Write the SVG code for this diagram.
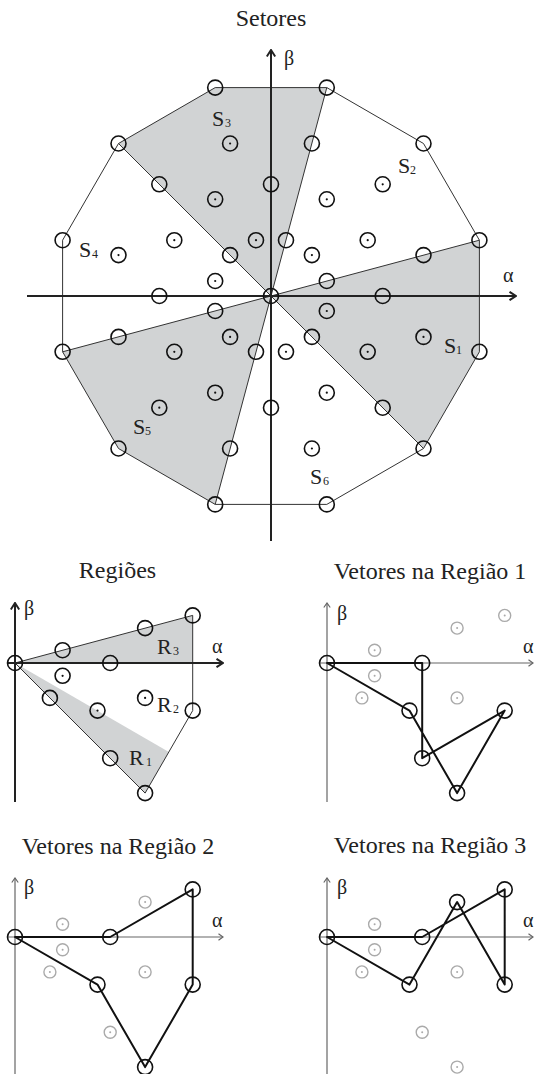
<svg xmlns="http://www.w3.org/2000/svg" xmlns:xlink="http://www.w3.org/1999/xlink" width="536" height="1074" viewBox="0 0 536 1074">
<style>
text{font-family:"Liberation Serif","Times New Roman",serif;fill:#222}
.t{font-size:24px;text-anchor:middle}
.lb{font-size:22px}
.sb{font-size:12px}
.gr{font-size:20px}
.sh{fill:#d1d3d4;stroke:none}
.ln{fill:none;stroke:#333;stroke-width:1}
.ax{fill:none;stroke:#222;stroke-width:2}
.axt{fill:none;stroke:#666;stroke-width:1.2}
.vec{fill:none;stroke:#111;stroke-width:2;stroke-linejoin:round}
.c{fill:none;stroke:#111;stroke-width:1.6}
.d{fill:#111}
.gc{fill:none;stroke:#aaa;stroke-width:1.4}
.gd{fill:#aaa}
</style>
<defs>
<marker id="ah" viewBox="0 0 10 10" refX="9" refY="5" markerWidth="10" markerHeight="10" markerUnits="userSpaceOnUse" orient="auto"><path d="M2.5,0.8 L9,5 L2.5,9.2" fill="none" stroke="#222" stroke-width="2"/></marker>
<marker id="aht" viewBox="0 0 8 8" refX="7" refY="4" markerWidth="8" markerHeight="8" markerUnits="userSpaceOnUse" orient="auto"><path d="M2.5,0.8 L7,4 L2.5,7.2" fill="none" stroke="#666" stroke-width="1.2"/></marker>
<g id="pc"><circle r="7.5" class="c"/></g>
<g id="dc"><circle r="7.5" class="c"/><circle r="1.1" class="d"/></g>
<g id="gc"><circle r="6" class="gc"/><circle r="1" class="gd"/></g>
</defs>

<!-- ===== Setores ===== -->
<g id="setores">
<text class="t" x="271" y="26">Setores</text>
<g id="sectors-shading">
<polygon class="sh" points="271,296 479.4,240.2 479.4,351.8 423.5,448.5"/>
<polygon class="sh" points="271,296 326.8,87.6 215.2,87.6 118.5,143.5"/>
<polygon class="sh" points="271,296 62.6,351.8 118.5,448.5 215.2,504.4"/>
</g>
<g id="connectors">
<polygon class="ln" points="479.4,240.2 423.5,143.5 326.8,87.6 215.2,87.6 118.5,143.5 62.6,240.2 62.6,351.8 118.5,448.5 215.2,504.4 326.8,504.4 423.5,448.5 479.4,351.8"/>
<path class="ln" d="M271,296 L479.4,240.2 M271,296 L326.8,87.6 M271,296 L118.5,143.5 M271,296 L62.6,351.8 M271,296 L215.2,504.4 M271,296 L423.5,448.5"/>
<line class="ax" x1="27" y1="296" x2="516" y2="296" marker-end="url(#ah)"/>
<line class="ax" x1="271" y1="541" x2="271" y2="50" marker-end="url(#ah)"/>
</g>
<g id="setores-vectors">
<use href="#pc" x="271" y="296"/>
<use href="#pc" x="326.8" y="281"/><use href="#pc" x="286" y="240.2"/><use href="#pc" x="230.1" y="255.1"/><use href="#pc" x="215.2" y="311"/><use href="#pc" x="256" y="351.8"/><use href="#pc" x="311.9" y="336.9"/>
<use href="#pc" x="382.7" y="296"/><use href="#pc" x="271" y="184.3"/><use href="#pc" x="159.3" y="296"/><use href="#pc" x="271" y="407.7"/>
<use href="#pc" x="423.5" y="255.1"/><use href="#pc" x="311.9" y="143.5"/><use href="#pc" x="159.3" y="184.3"/><use href="#pc" x="118.5" y="336.9"/><use href="#pc" x="230.1" y="448.5"/><use href="#pc" x="382.7" y="407.7"/>
<use href="#pc" x="479.4" y="240.2"/><use href="#pc" x="423.5" y="143.5"/><use href="#pc" x="326.8" y="87.6"/><use href="#pc" x="215.2" y="87.6"/><use href="#pc" x="118.5" y="143.5"/><use href="#pc" x="62.6" y="240.2"/><use href="#pc" x="62.6" y="351.8"/><use href="#pc" x="118.5" y="448.5"/><use href="#pc" x="215.2" y="504.4"/><use href="#pc" x="326.8" y="504.4"/><use href="#pc" x="423.5" y="448.5"/><use href="#pc" x="479.4" y="351.8"/>
<use href="#dc" x="311.9" y="255.1"/><use href="#dc" x="256" y="240.2"/><use href="#dc" x="215.2" y="281"/><use href="#dc" x="230.1" y="336.9"/><use href="#dc" x="286" y="351.8"/><use href="#dc" x="326.8" y="311"/>
<use href="#dc" x="367.7" y="240.2"/><use href="#dc" x="326.8" y="199.3"/><use href="#dc" x="215.2" y="199.3"/><use href="#dc" x="174.3" y="240.2"/><use href="#dc" x="174.3" y="351.8"/><use href="#dc" x="215.2" y="392.7"/><use href="#dc" x="326.8" y="392.7"/><use href="#dc" x="367.7" y="351.8"/>
<use href="#dc" x="382.7" y="184.3"/><use href="#dc" x="230.1" y="143.5"/><use href="#dc" x="118.5" y="255.1"/><use href="#dc" x="159.3" y="407.7"/><use href="#dc" x="311.9" y="448.5"/><use href="#dc" x="423.5" y="336.9"/>
</g>
<g id="setores-labels">
<text class="gr" x="503" y="282">α</text>
<text class="gr" x="284" y="65">β</text>
<text class="lb" x="444" y="353">S</text><text class="sb" x="456" y="354">1</text>
<text class="lb" x="398" y="173">S</text><text class="sb" x="410" y="174">2</text>
<text class="lb" x="212" y="126">S</text><text class="sb" x="225" y="127">3</text>
<text class="lb" x="79" y="257">S</text><text class="sb" x="92" y="258">4</text>
<text class="lb" x="133" y="434">S</text><text class="sb" x="145" y="435">5</text>
<text class="lb" x="310" y="484">S</text><text class="sb" x="323" y="485">6</text>
</g>
</g>

<!-- ===== Regiões ===== -->
<g id="regioes">
<text class="t" x="117.5" y="578">Regiões</text>
<polygon class="sh" points="15,663 192.7,615.4 192.7,663"/>
<polygon class="sh" points="15,663 145.1,793.1 168.9,751.9"/>
<g id="regioes-connectors">
<path class="ln" d="M15,663 L192.7,615.4 L192.7,710.6 L145.1,793.1 Z"/>
<line class="ax" x1="7" y1="663" x2="223" y2="663" marker-end="url(#ah)"/>
<line class="ax" x1="15" y1="802" x2="15" y2="603" marker-end="url(#ah)"/>
</g>
<use href="#pc" x="15" y="663"/>
<use href="#pc" x="62.6" y="650.2"/><use href="#dc" x="62.6" y="675.8"/><use href="#pc" x="49.9" y="697.9"/>
<use href="#pc" x="110.2" y="663"/><use href="#dc" x="97.5" y="710.6"/>
<use href="#pc" x="145.1" y="628.1"/><use href="#dc" x="145.1" y="697.9"/><use href="#pc" x="110.2" y="758.2"/>
<use href="#pc" x="192.7" y="615.4"/><use href="#pc" x="192.7" y="710.6"/><use href="#pc" x="145.1" y="793.1"/>
<text class="gr" x="212" y="653">α</text>
<text class="gr" x="24" y="615">β</text>
<text class="lb" x="157" y="654">R</text><text class="sb" x="173" y="655">3</text>
<text class="lb" x="157" y="712">R</text><text class="sb" x="173" y="713">2</text>
<text class="lb" x="129" y="765">R</text><text class="sb" x="146" y="766">1</text>
</g>

<!-- ===== Vetores na Região 1 ===== -->
<g id="regiao1">
<text class="t" x="430" y="579">Vetores na Região 1</text>
<g id="regiao1-connectors">
<line class="axt" x1="320" y1="663" x2="533" y2="663" marker-end="url(#aht)"/>
<line class="axt" x1="327" y1="802" x2="327" y2="603" marker-end="url(#aht)"/>
<polygon class="vec" points="327,663 422.2,663 422.2,758.2 504.7,710.6 457.1,793.1 409.5,710.6"/>
</g>
<use href="#gc" x="374.6" y="650.2"/><use href="#gc" x="374.6" y="675.8"/><use href="#gc" x="361.9" y="697.9"/>
<use href="#gc" x="457.1" y="628.1"/><use href="#gc" x="457.1" y="697.9"/><use href="#gc" x="504.7" y="615.4"/>
<use href="#pc" x="327" y="663"/><use href="#pc" x="422.2" y="663"/><use href="#pc" x="409.5" y="710.6"/>
<use href="#pc" x="422.2" y="758.2"/><use href="#pc" x="457.1" y="793.1"/><use href="#pc" x="504.7" y="710.6"/>
<text class="gr" x="523" y="653">α</text>
<text class="gr" x="337" y="620">β</text>
</g>

<!-- ===== Vetores na Região 2 ===== -->
<g id="regiao2">
<text class="t" x="118" y="854">Vetores na Região 2</text>
<g id="regiao2-connectors">
<line class="axt" x1="8" y1="937" x2="223" y2="937" marker-end="url(#aht)"/>
<line class="axt" x1="15" y1="1074" x2="15" y2="878" marker-end="url(#aht)"/>
<polygon class="vec" points="15,937 110.2,937 192.7,889.4 192.7,984.6 145.1,1067.1 97.5,984.6"/>
</g>
<use href="#gc" x="62.6" y="924.2"/><use href="#gc" x="62.6" y="949.8"/><use href="#gc" x="49.9" y="971.9"/>
<use href="#gc" x="145.1" y="902.1"/><use href="#gc" x="145.1" y="971.9"/><use href="#gc" x="110.2" y="1032.2"/>
<use href="#pc" x="15" y="937"/><use href="#pc" x="110.2" y="937"/><use href="#pc" x="192.7" y="889.4"/>
<use href="#pc" x="192.7" y="984.6"/><use href="#pc" x="145.1" y="1067.1"/><use href="#pc" x="97.5" y="984.6"/>
<text class="gr" x="212" y="927">α</text>
<text class="gr" x="24" y="894">β</text>
</g>

<!-- ===== Vetores na Região 3 ===== -->
<g id="regiao3">
<text class="t" x="430" y="853">Vetores na Região 3</text>
<g id="regiao3-connectors">
<line class="axt" x1="320" y1="937" x2="533" y2="937" marker-end="url(#aht)"/>
<line class="axt" x1="327" y1="1074" x2="327" y2="878" marker-end="url(#aht)"/>
<polygon class="vec" points="327,937 422.2,937 504.7,889.4 504.7,984.6 457.1,902.1 409.5,984.6"/>
</g>
<use href="#gc" x="374.6" y="924.2"/><use href="#gc" x="374.6" y="949.8"/><use href="#gc" x="361.9" y="971.9"/>
<use href="#gc" x="457.1" y="971.9"/><use href="#gc" x="422.2" y="1032.2"/><use href="#gc" x="457.1" y="1067.1"/>
<use href="#pc" x="327" y="937"/><use href="#pc" x="422.2" y="937"/><use href="#pc" x="504.7" y="889.4"/>
<use href="#pc" x="504.7" y="984.6"/><use href="#pc" x="457.1" y="902.1"/><use href="#pc" x="409.5" y="984.6"/>
<text class="gr" x="523" y="927">α</text>
<text class="gr" x="337" y="894">β</text>
</g>
</svg>
